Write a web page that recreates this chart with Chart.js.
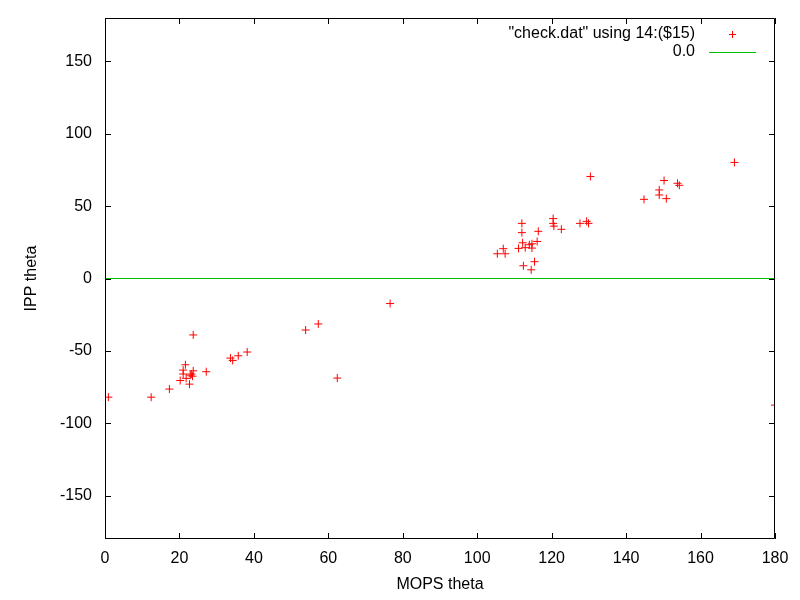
<!DOCTYPE html>
<html>
<head>
<meta charset="utf-8">
<script src="https://cdn.jsdelivr.net/npm/chart.js@4/dist/chart.umd.min.js"></script>
<style>
  html, body { margin: 0; padding: 0; background: #fff; }
  canvas { display: block; }
</style>
</head>
<body>
<canvas id="plot" width="800" height="600"></canvas>
<script>
// values
const mopsTheta = [
    0.9, 12.4, 17.3, 23.7, 21.6, 21.0, 21.0, 20.2, 22.7, 21.8, 23.7, 23.2, 22.9, 23.5,
    27.2, 33.7, 34.3, 35.8, 38.2, 53.9, 57.3, 62.4, 76.6,
    105.4, 107.5, 107.0, 111.1, 112.9, 114.7, 112.2, 114.0, 114.7, 116.1, 112.0, 112.0,
    116.4, 112.4, 115.4, 114.5, 120.4, 120.4, 120.6, 122.6, 127.6, 129.4, 129.9, 130.4,
    144.8, 148.9, 148.9, 150.2, 150.8, 153.8, 154.3, 169.1, 180.0
];
const ippTheta = [
    -82.0, -82.0, -76.4, -39.0, -59.6, -63.3, -66.0, -70.5, -73.0, -69.0, -63.8, -66.0, -66.8, -67.5,
    -64.4, -55.0, -56.6, -53.4, -50.8, -35.6, -31.4, -68.8, -17.3,
    17.1, 17.1, 20.6, 20.8, 21.3, 21.0, 24.7, 23.3, 24.0, 25.6, 31.7, 38.1,
    32.6, 8.8, 11.6, 6.0, 41.4, 38.1, 36.2, 34.0, 38.1, 39.5, 38.1, 70.5,
    54.7, 61.2, 57.7, 67.7, 55.2, 65.8, 64.4, 80.2, -87.5
];
const xTicks = [0, 20, 40, 60, 80, 100, 120, 140, 160, 180];
const yTicks = [-150, -100, -50, 0, 50, 100, 150];
const zeroLineX = [0, 180];
const zeroLineY = [0, 0];

const FONT = 'Liberation Sans, Arial, sans-serif';

// gnuplot style frame: box + inward ticks on all four sides
const framePlugin = {
    id: 'frame',
    afterDatasetsDraw(chart) {
        const { ctx, chartArea: a, scales } = chart;
        ctx.save();
        ctx.strokeStyle = '#000';
        ctx.lineWidth = 1;
        ctx.beginPath();
        ctx.rect(a.left + 0.5, a.top + 0.5, a.right - a.left - 1, a.bottom - a.top - 1);
        scales.x.ticks.forEach(t => {
            const px = Math.round(scales.x.getPixelForValue(t.value)) + 0.5;
            ctx.moveTo(px, a.bottom); ctx.lineTo(px, a.bottom - 6);
            ctx.moveTo(px, a.top); ctx.lineTo(px, a.top + 6);
        });
        scales.y.ticks.forEach(t => {
            const py = Math.round(scales.y.getPixelForValue(t.value)) + 0.5;
            ctx.moveTo(a.left, py); ctx.lineTo(a.left + 6, py);
            ctx.moveTo(a.right, py); ctx.lineTo(a.right - 6, py);
        });
        ctx.stroke();
        ctx.restore();
    }
};

// legend in the top right corner, text right aligned, sample on the right
const keyPlugin = {
    id: 'key',
    afterDraw(chart) {
        const ctx = chart.ctx;
        ctx.save();
        ctx.font = '16px ' + FONT;
        ctx.fillStyle = '#000';
        ctx.textAlign = 'right';
        ctx.textBaseline = 'middle';
        chart.data.datasets.forEach((ds, i) => {
            const y = 34 + i * 18;
            ctx.fillText(ds.label, 695, y);
            ctx.strokeStyle = ds.borderColor;
            ctx.lineWidth = 1;
            ctx.beginPath();
            if (ds.showLine) {
                ctx.moveTo(709, y + 0.5); ctx.lineTo(756, y + 0.5);
            } else {
                ctx.moveTo(729, y + 0.5); ctx.lineTo(736, y + 0.5);
                ctx.moveTo(732.5, y - 3); ctx.lineTo(732.5, y + 4);
            }
            ctx.stroke();
        });
        ctx.restore();
    }
};

document.addEventListener('DOMContentLoaded', function() {
    const ctx = document.getElementById('plot').getContext('2d');
    new Chart(ctx, {
        type: 'scatter',
        data: {
            datasets: [{
                label: '"check.dat" using 14:($15)',
                data: mopsTheta.map((x, i) => ({ x: x, y: ippTheta[i] })),
                pointStyle: 'cross',
                pointRadius: 4,
                pointBorderWidth: 1,
                borderColor: '#ff0000',
                backgroundColor: '#ff0000',
                showLine: false
            }, {
                label: '0.0',
                data: zeroLineX.map((x, i) => ({ x: x, y: zeroLineY[i] })),
                showLine: true,
                borderColor: '#00c000',
                borderWidth: 1,
                pointRadius: 0
            }]
        },
        options: {
            responsive: false,
            animation: false,
            devicePixelRatio: 1,
            layout: { padding: { top: 18, right: 25, left: 0, bottom: 0 } },
            plugins: {
                legend: { display: false },
                tooltip: { enabled: false }
            },
            scales: {
                x: {
                    type: 'linear',
                    min: 0,
                    max: 180,
                    afterBuildTicks: s => { s.ticks = xTicks.map(v => ({ value: v })); },
                    afterFit: s => { s.height = 61; },
                    grid: { display: false, drawTicks: false },
                    border: { display: false },
                    ticks: { color: '#000', padding: 10, maxRotation: 0, font: { family: FONT, size: 16 } },
                    title: { display: true, text: 'MOPS theta', color: '#000', padding: { top: 0, bottom: 6 }, font: { family: FONT, size: 16 } }
                },
                y: {
                    type: 'linear',
                    min: -180,
                    max: 180,
                    afterBuildTicks: s => { s.ticks = yTicks.map(v => ({ value: v })); },
                    afterFit: s => { s.width = 105; s.paddingTop = 0; s.paddingBottom = 0; },
                    grid: { display: false, drawTicks: false },
                    border: { display: false },
                    ticks: { color: '#000', padding: 13, font: { family: FONT, size: 16 } },
                    title: { display: true, text: 'IPP theta', color: '#000', padding: { top: 22, bottom: 0 }, font: { family: FONT, size: 16 } }
                }
            }
        },
        plugins: [framePlugin, keyPlugin]
    });
});
</script>
</body>
</html>
